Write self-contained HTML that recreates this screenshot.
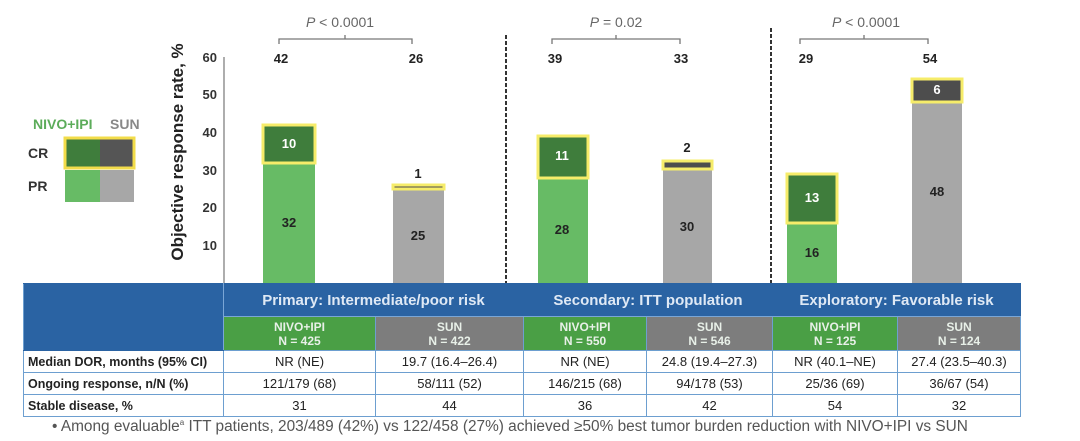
<!DOCTYPE html><html><head><style>
body{margin:0;width:1080px;height:441px;background:#fff;font-family:"Liberation Sans",sans-serif;position:relative;overflow:hidden}
.a{position:absolute}
table{position:absolute;left:23px;top:283px;border-collapse:collapse;font-size:13px;table-layout:fixed}
td{border:1.5px solid #6d9fd0;text-align:center;padding:0;color:#222;white-space:nowrap}
.h1 td{background:#2a63a3;color:#dfe9f5;font-weight:bold;font-size:15px;height:32px;border-color:#2a63a3;border-bottom-color:#7aa6d6}
.h2 td{font-weight:bold;font-size:12px;color:#e8f0e8;height:33px;line-height:14px}
.g{background:#4a9f45!important}.s{background:#7d7d7d!important}
.r td{height:21px}
.r td:first-child{text-align:left;font-weight:bold;padding-left:4px;font-size:12.5px}
</style></head><body>
<svg class="a" style="left:0;top:0" width="1080" height="290">
<g font-family="Liberation Sans" font-weight="bold" font-size="13" fill="#333" text-anchor="end">
<text x="217" y="62">60</text><text x="217" y="99">50</text><text x="217" y="137">40</text><text x="217" y="175">30</text><text x="217" y="212">20</text><text x="217" y="250">10</text></g>
<line x1="224" y1="57" x2="224" y2="283" stroke="#777" stroke-width="1.2"/>
<text transform="translate(183,152) rotate(-90)" text-anchor="middle" font-family="Liberation Sans" font-weight="bold" font-size="17" fill="#222">Objective response rate, %</text>
<line x1="506" y1="35" x2="506" y2="283" stroke="#333" stroke-width="2" stroke-dasharray="4,2"/>
<line x1="771" y1="28" x2="771" y2="283" stroke="#333" stroke-width="2" stroke-dasharray="4,2"/>
<g stroke="#777" stroke-width="1.3" fill="none">
<path d="M279 44V39H412V44M345 39V35"/><path d="M552 44V39H680V44M616 39V35"/><path d="M800 44V39H928V44M864 39V35"/></g>
<g font-family="Liberation Sans" font-size="14" fill="#666" text-anchor="middle">
<text x="340" y="27"><tspan font-style="italic">P</tspan> &lt; 0.0001</text>
<text x="616" y="27"><tspan font-style="italic">P</tspan> = 0.02</text>
<text x="866" y="27"><tspan font-style="italic">P</tspan> &lt; 0.0001</text></g>
<g font-family="Liberation Sans" font-weight="bold" font-size="13" fill="#222" text-anchor="middle">
<text x="281" y="63">42</text><text x="416" y="63">26</text><text x="555" y="63">39</text><text x="681" y="63">33</text><text x="806" y="63">29</text><text x="930" y="63">54</text></g>
<g stroke="#f6ec6a" stroke-width="3">
<rect x="263" y="163" width="52" height="120" fill="#67bb65" stroke="none"/>
<rect x="263" y="125" width="52" height="38" fill="#3f7d3c"/>
<rect x="393" y="189" width="51" height="94" fill="#a7a7a7" stroke="none"/>
<rect x="393" y="185" width="51" height="4" fill="#4d4d4d"/>
<rect x="538" y="178" width="50" height="105" fill="#67bb65" stroke="none"/>
<rect x="538" y="136" width="50" height="42" fill="#3f7d3c"/>
<rect x="663" y="170" width="49" height="113" fill="#a7a7a7" stroke="none"/>
<rect x="663" y="161" width="49" height="8" fill="#4d4d4d"/>
<rect x="787" y="223" width="50" height="60" fill="#67bb65" stroke="none"/>
<rect x="787" y="174" width="50" height="49" fill="#3f7d3c"/>
<rect x="912" y="102" width="50" height="181" fill="#a7a7a7" stroke="none"/>
<rect x="912" y="79" width="50" height="23" fill="#4d4d4d"/>
</g>
<g font-family="Liberation Sans" font-weight="bold" font-size="13" text-anchor="middle" fill="#222">
<text x="289" y="148" fill="#fff">10</text><text x="289" y="227">32</text>
<text x="418" y="178">1</text><text x="418" y="240">25</text>
<text x="562" y="160" fill="#fff">11</text><text x="562" y="234">28</text>
<text x="687" y="152">2</text><text x="687" y="231">30</text>
<text x="812" y="202" fill="#fff">13</text><text x="812" y="257">16</text>
<text x="937" y="94" fill="#fff">6</text><text x="937" y="196">48</text></g>
<g font-family="Liberation Sans" font-weight="bold" font-size="14">
<text x="33" y="129" fill="#5cac5a">NIVO+IPI</text><text x="110" y="129" fill="#888">SUN</text>
<text x="28" y="158" fill="#333">CR</text><text x="28" y="191" fill="#333">PR</text></g>
<rect x="65" y="170" width="35" height="32" fill="#67bb65"/><rect x="100" y="170" width="34" height="32" fill="#a7a7a7"/>
<rect x="65" y="138" width="35" height="30" fill="#3f7d3c"/><rect x="100" y="138" width="34" height="30" fill="#555"/>
<rect x="65" y="138" width="69" height="30" fill="none" stroke="#f2dc4a" stroke-width="3"/>
</svg>
<table>
<colgroup><col style="width:200px"><col style="width:152px"><col style="width:148px"><col style="width:123px"><col style="width:126px"><col style="width:125px"><col style="width:123px"></colgroup>
<tr class="h1"><td rowspan="2" style="border-color:#2a63a3;border-right-color:#7aa6d6;border-left-color:#6d9fd0"></td><td colspan="2">Primary: Intermediate/poor risk</td><td colspan="2">Secondary: ITT population</td><td colspan="2">Exploratory: Favorable risk</td></tr>
<tr class="h2"><td class="g">NIVO+IPI<br>N = 425</td><td class="s">SUN<br>N = 422</td><td class="g">NIVO+IPI<br>N = 550</td><td class="s">SUN<br>N = 546</td><td class="g">NIVO+IPI<br>N = 125</td><td class="s">SUN<br>N = 124</td></tr>
<tr class="r"><td>Median DOR, months (95% CI)</td><td>NR (NE)</td><td>19.7 (16.4–26.4)</td><td>NR (NE)</td><td>24.8 (19.4–27.3)</td><td>NR (40.1–NE)</td><td>27.4 (23.5–40.3)</td></tr>
<tr class="r"><td>Ongoing response, n/N (%)</td><td>121/179 (68)</td><td>58/111 (52)</td><td>146/215 (68)</td><td>94/178 (53)</td><td>25/36 (69)</td><td>36/67 (54)</td></tr>
<tr class="r"><td>Stable disease, %</td><td>31</td><td>44</td><td>36</td><td>42</td><td>54</td><td>32</td></tr>
</table>
<div class="a" style="left:52px;top:418px;font-size:15.4px;color:#555;white-space:nowrap">• Among evaluable<sup style="font-size:8px">a</sup> ITT patients, 203/489 (42%) vs 122/458 (27%) achieved ≥50% best tumor burden reduction with NIVO+IPI vs SUN</div>
</body></html>
